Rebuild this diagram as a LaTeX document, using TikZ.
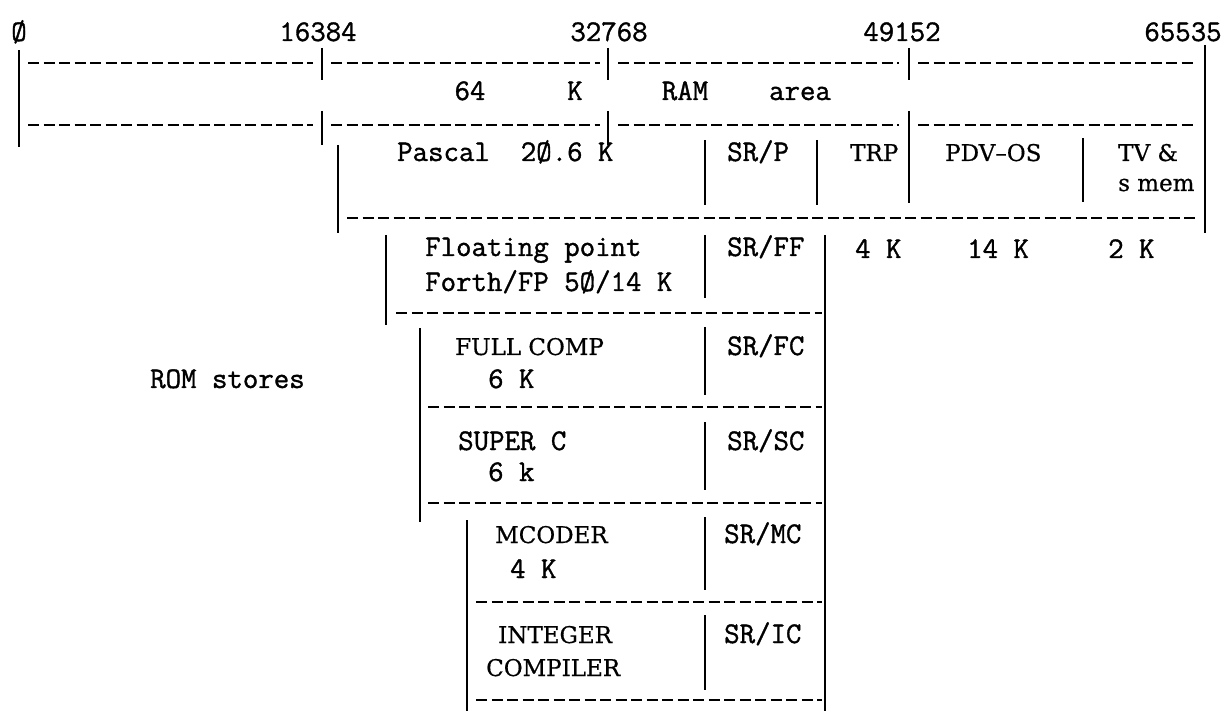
\documentclass[tikz,border=0pt]{standalone}
\usepackage{fontspec}
\newfontfamily\monof[FakeBold=1.2]{Latin Modern Mono}
\newfontfamily\propf[FakeBold=0.6]{DejaVu Serif}
\begin{document}
\begin{tikzpicture}[x=1pt,y=-1pt,
  dline/.style={line width=2.4pt, dash pattern=on 11pt off 4.5pt},
  vline/.style={line width=2.5pt},
  mt/.style={font=\monof\fontsize{30}{34}\selectfont, inner sep=0pt, text height=16pt, text depth=0pt, anchor=west},
  pt/.style={font=\propf\fontsize{23}{27}\selectfont, inner sep=0pt, text height=16pt, text depth=0pt, anchor=west},
  lab/.style={mt, anchor=center}]
\useasboundingbox (0,0) rectangle (1224,711);
% top address labels
\node[lab] (a0) at (19,33) {Ø};
\node[lab] (a1) at (318,33) {16384};
\node[lab] (a2) at (609,33) {32768};
\node[lab] (a3) at (902,33) {49152};
\node[lab] (a4) at (1183,33) {65535};
% RAM row
\foreach \y in {63,125}{
  \draw[dline] (28,\y) -- (313,\y);
  \draw[dline] (331,\y) -- (600,\y);
  \draw[dline] (618,\y) -- (899,\y);
  \draw[dline] (918,\y) -- (1196,\y);
}
\draw[vline] (19,50) -- (19,147);
\foreach \x in {322,608,909}{ \draw[vline] (\x,48) -- (\x,80); }
\draw[vline] (322,111) -- (322,145);
\draw[vline] (608,111) -- (608,145);
\draw[vline] (909,111) -- (909,203);
\draw[vline] (1205,45) -- (1205,233);
\node[lab] (r64) at (470,92) {64};
\node[lab] (rK) at (575,92) {K};
\node[lab] (rRAM) at (685,92) {RAM};
\node[lab] (rarea) at (800,92) {area};
% Pascal row
\draw[vline] (338,145) -- (338,233);
\node[mt] (pas) at (397,153) {Pascal\ \ 2Ø.6 K};
\draw[vline] (705,140) -- (705,205);
\node[mt] (srp) at (727,153) {SR/P};
\draw[vline] (817,140) -- (817,205);
\node[pt] (trp) at (850,153) {TRP};
\node[pt] (pdv) at (945,153) {PDV–OS};
\draw[vline] (1083,138) -- (1083,202);
\node[pt] (tv1) at (1118,153) {TV \&};
\node[pt] (tv2) at (1118,183) {s mem};
\draw[dline] (347,218) -- (1198,218);
\node[mt] (k4) at (855,250) {4 K};
\node[mt] (k14) at (967,250) {14 K};
\node[mt] (k2) at (1108,250) {2 K};
% Floating point
\draw[vline] (386,235) -- (386,325);
\node[mt] (fp1) at (425,248) {Floating point};
\node[mt] (fp2) at (425,283) {Forth/FP 5Ø/14 K};
\draw[vline] (705,235) -- (705,298);
\node[mt] (srff) at (727,248) {SR/FF};
\draw[vline] (825,235) -- (825,711);
\draw[dline] (396,313) -- (822,313);
% FULL COMP / SUPER C
\draw[vline] (420,328) -- (420,522);
\node[pt] (fc1) at (455,347) {FULL COMP};
\node[mt] (fc2) at (488,380) {6 K};
\draw[vline] (705,327) -- (705,395);
\node[mt] (srfc) at (727,347) {SR/FC};
\draw[dline] (428,407) -- (822,407);
\node[mt] (sc1) at (458,442) {SUPER C};
\node[mt] (sc2) at (488,473) {6 k};
\draw[vline] (705,422) -- (705,490);
\node[mt] (srsc) at (727,442) {SR/SC};
\draw[dline] (428,503) -- (822,503);
% MCODER / INTEGER
\draw[vline] (467,520) -- (467,711);
\node[pt] (mc1) at (495,535) {MCODER};
\node[mt] (mc2) at (510,570) {4 K};
\draw[vline] (705,517) -- (705,590);
\node[mt] (srmc) at (724,535) {SR/MC};
\draw[dline] (476,602) -- (822,602);
\node[pt] (ic1) at (498,635) {INTEGER};
\node[pt] (ic2) at (486,668) {COMPILER};
\draw[vline] (705,615) -- (705,690);
\node[mt] (sric) at (724,635) {SR/IC};
\draw[dline] (476,700) -- (822,700);
% ROM stores
\node[mt] (rom) at (150,380) {ROM stores};
\end{tikzpicture}
\end{document}
